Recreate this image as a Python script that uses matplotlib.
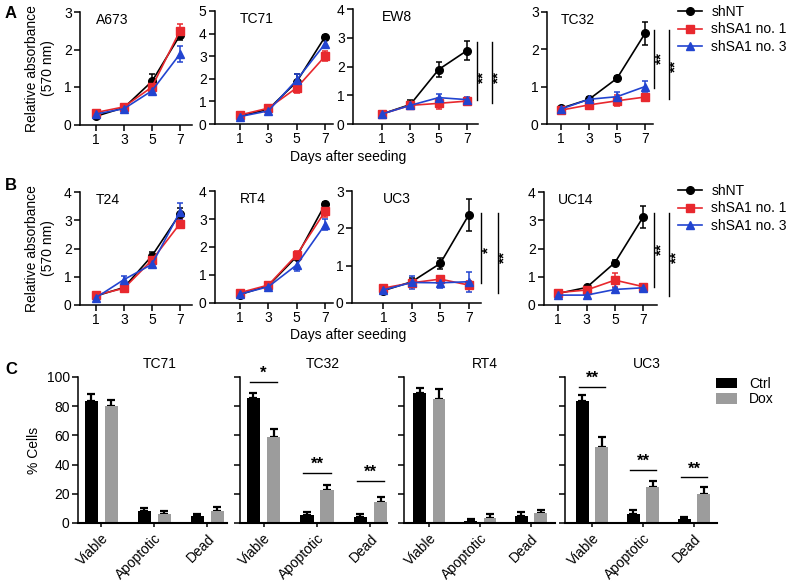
import numpy as np
import matplotlib
matplotlib.use("Agg")
import matplotlib.pyplot as plt
from matplotlib.lines import Line2D
from matplotlib.patches import Patch

plt.rcParams['font.family'] = ['Liberation Sans', 'DejaVu Sans']
plt.rcParams['font.size'] = 10

W, H = 788, 585

# ---------------- data: growth curves ----------------
days = [1, 3, 5, 7]
series_names = ["shNT", "shSA1 no. 1", "shSA1 no. 3"]
series_colors = ["#000000", "#e8282e", "#2244d0"]
series_markers = ["o", "s", "^"]

A673_mean = [[0.22, 0.45, 1.15, 2.38], [0.32, 0.47, 1.00, 2.50], [0.28, 0.42, 0.90, 1.88]]
A673_err = [[0.03, 0.08, 0.20, 0.12], [0.05, 0.05, 0.15, 0.18], [0.05, 0.05, 0.07, 0.22]]
TC71_mean = [[0.35, 0.65, 1.87, 3.86], [0.40, 0.70, 1.60, 3.00], [0.33, 0.58, 1.95, 3.55]]
TC71_err = [[0.05, 0.05, 0.35, 0.10], [0.06, 0.08, 0.22, 0.22], [0.05, 0.05, 0.25, 0.15]]
EW8_mean = [[0.35, 0.68, 1.90, 2.56], [0.35, 0.65, 0.72, 0.80], [0.35, 0.65, 0.92, 0.85]]
EW8_err = [[0.05, 0.15, 0.26, 0.33], [0.05, 0.10, 0.18, 0.12], [0.05, 0.10, 0.12, 0.10]]
TC32_mean = [[0.42, 0.66, 1.22, 2.42], [0.37, 0.51, 0.62, 0.72], [0.40, 0.66, 0.73, 1.00]]
TC32_err = [[0.04, 0.05, 0.07, 0.30], [0.04, 0.05, 0.15, 0.07], [0.04, 0.05, 0.12, 0.15]]

T24_mean = [[0.32, 0.62, 1.74, 3.23], [0.35, 0.59, 1.59, 2.88], [0.26, 0.90, 1.44, 3.30]]
T24_err = [[0.05, 0.08, 0.12, 0.20], [0.05, 0.08, 0.12, 0.15], [0.05, 0.12, 0.10, 0.30]]
RT4_mean = [[0.30, 0.62, 1.66, 3.52], [0.37, 0.64, 1.72, 3.27], [0.32, 0.58, 1.36, 2.80]]
RT4_err = [[0.04, 0.06, 0.10, 0.08], [0.05, 0.06, 0.15, 0.20], [0.04, 0.06, 0.20, 0.20]]
UC3_mean = [[0.33, 0.57, 1.06, 2.36], [0.40, 0.54, 0.64, 0.48], [0.35, 0.55, 0.54, 0.57]]
UC3_err = [[0.04, 0.10, 0.15, 0.42], [0.05, 0.08, 0.08, 0.10], [0.04, 0.18, 0.15, 0.27]]
UC14_mean = [[0.41, 0.62, 1.50, 3.12], [0.44, 0.53, 0.88, 0.65], [0.35, 0.35, 0.55, 0.61]]
UC14_err = [[0.04, 0.05, 0.10, 0.40], [0.05, 0.06, 0.25, 0.10], [0.04, 0.05, 0.05, 0.05]]

# ---------------- data: bar charts ----------------
bar_categories = ["Viable", "Apoptotic", "Dead"]
bar_groups = ["Ctrl", "Dox"]
bar_colors = ["#000000", "#9c9c9c"]

TC71_ctrl = [83.3, 8.0, 5.0];  TC71_ctrl_err = [5.0, 2.0, 1.0]
TC71_dox = [80.4, 6.0, 8.0];   TC71_dox_err = [4.0, 2.2, 3.0]
TC32_ctrl = [85.4, 5.7, 3.9];  TC32_ctrl_err = [3.5, 2.0, 2.0]
TC32_dox = [59.0, 22.4, 14.6]; TC32_dox_err = [5.5, 3.5, 3.0]
RT4_ctrl = [89.3, 1.6, 4.8];   RT4_ctrl_err = [3.5, 1.0, 2.5]
RT4_dox = [85.2, 3.7, 7.0];    RT4_dox_err = [6.5, 2.5, 2.0]
UC3_ctrl = [83.3, 6.2, 3.0];   UC3_ctrl_err = [4.5, 2.4, 1.0]
UC3_dox = [51.8, 24.7, 19.6];  UC3_dox_err = [6.8, 3.8, 5.0]

fig = plt.figure(figsize=(W / 100, H / 100), dpi=100)


def add_axes_px(left, top, right, bottom):
    return fig.add_axes([left / W, 1 - bottom / H, (right - left) / W, (bottom - top) / H])


def style(ax):
    for s in ["top", "right"]:
        ax.spines[s].set_visible(False)
    for s in ["left", "bottom"]:
        ax.spines[s].set_linewidth(1.1)
    ax.tick_params(direction="out", length=4, width=1.1, labelsize=10, pad=2)


def growth(ax, name, means, errs, ymax, xlim, sig):
    style(ax)
    for m, e, c, mk in zip(means, errs, series_colors, series_markers):
        ax.errorbar(days, m, yerr=e, color=c, marker=mk, markersize=5.5, lw=1.2,
                    elinewidth=1.1, capsize=2.5, capthick=1.1, clip_on=False, zorder=3)
    ax.set_ylim(0, ymax)
    ax.set_yticks(range(0, ymax + 1))
    ax.set_xlim(*xlim)
    ax.set_xticks(days)
    ax.text(1.0, ymax * 0.93, name, fontsize=10, ha="left", va="center")
    for (x, y0, y1, sx, sy, st) in sig:
        ax.plot([x, x], [y0, y1], color="#000000", lw=1.0, clip_on=False)
        ax.text(sx, sy, st, rotation=90, ha="center", va="center", fontsize=11,
                fontweight="bold", clip_on=False)


# ---------------- Row A ----------------
axA1 = add_axes_px(80, 12, 192, 124.5)
growth(axA1, "A673", A673_mean, A673_err, 3, (-0.14, 7.86), [])
axA2 = add_axes_px(215, 11, 333, 124)
growth(axA2, "TC71", TC71_mean, TC71_err, 5, (-0.76, 7.56), [])
axA3 = add_axes_px(353, 9.3, 478, 124)
growth(axA3, "EW8", EW8_mean, EW8_err, 4, (-1.05, 7.78),
       [(7.7, 2.86, 0.84, 8.13, 1.64, "**"), (8.76, 2.86, 0.73, 9.2, 1.64, "**")])
axA4 = add_axes_px(547, 11.7, 653, 124)
growth(axA4, "TC32", TC32_mean, TC32_err, 3, (0.0, 7.57),
       [(7.64, 2.51, 0.96, 8.14, 1.75, "**"), (8.71, 2.51, 0.67, 9.2, 1.55, "**")])
axA1.set_ylabel("Relative absorbance\n(570 nm)", fontsize=10, labelpad=6)

# ---------------- Row B ----------------
axB1 = add_axes_px(80, 192, 192, 305)
growth(axB1, "T24", T24_mean, T24_err, 4, (-0.14, 7.86), [])
axB2 = add_axes_px(215, 191, 333, 303)
growth(axB2, "RT4", RT4_mean, RT4_err, 4, (-0.76, 7.56), [])
axB3 = add_axes_px(352, 191, 481, 303)
growth(axB3, "UC3", UC3_mean, UC3_err, 3, (-1.2, 7.86),
       [(7.86, 2.41, 0.54, 8.35, 1.42, "*"), (9.07, 2.41, 0.27, 9.5, 1.23, "**")])
axB4 = add_axes_px(544, 192, 657, 305)
growth(axB4, "UC14", UC14_mean, UC14_err, 4, (0.0, 7.97),
       [(7.78, 3.26, 0.64, 8.27, 1.98, "**"), (8.83, 3.26, 0.32, 9.33, 1.70, "**")])
axB1.set_ylabel("Relative absorbance\n(570 nm)", fontsize=10, labelpad=6)

fig.text(348 / W, 1 - 157 / H, "Days after seeding", ha="center", va="center", fontsize=10)
fig.text(348 / W, 1 - 335 / H, "Days after seeding", ha="center", va="center", fontsize=10)

handles = [Line2D([], [], color=c, marker=mk, markersize=5.5, lw=1.2)
           for c, mk in zip(series_colors, series_markers)]
for ytop in (5, 184):
    fig.legend(handles, series_names, loc="upper left", bbox_to_anchor=(678 / W, 1 - ytop / H),
               frameon=False, handlelength=1.7, handletextpad=0.7, labelspacing=0.25,
               fontsize=10, borderaxespad=0, borderpad=0)

# ---------------- Row C ----------------
def bars(ax, name, ctrl, ctrl_e, dox, dox_e, xlim, show_labels, sig, title_x):
    style(ax)
    x = np.arange(len(bar_categories))
    off = 0.19
    w = 0.25
    ax.bar(x - off, ctrl, w, color=bar_colors[0], zorder=2)
    ax.bar(x + off, dox, w, color=bar_colors[1], zorder=2)
    ax.errorbar(x - off, ctrl, yerr=[np.zeros(3), ctrl_e], fmt="none", ecolor=bar_colors[0],
                elinewidth=1.6, capsize=3, capthick=1.6, zorder=1)
    ax.errorbar(x + off, dox, yerr=[np.zeros(3), dox_e], fmt="none", ecolor=bar_colors[0],
                elinewidth=1.6, capsize=3, capthick=1.6, zorder=1)
    ax.set_ylim(0, 100)
    ax.set_yticks([0, 20, 40, 60, 80, 100])
    if not show_labels:
        ax.set_yticklabels([])
    ax.set_xlim(*xlim)
    ax.set_xticks(x)
    ax.set_xticklabels(bar_categories, rotation=45, ha="right", rotation_mode="anchor", fontsize=10)
    ax.tick_params(axis="x", length=3, pad=3)
    ax.spines["bottom"].set_linewidth(1.5)
    ax.text(title_x, 104, name, ha="center", va="bottom", fontsize=10, clip_on=False)
    for (i, y, st) in sig:
        ax.plot([i - 0.26, i + 0.26], [y, y], color="#000000", lw=1.0)
        ax.text(i, y + 0.5, st, ha="center", va="bottom", fontsize=12, fontweight="bold")


axC1 = add_axes_px(78, 377, 227, 523)
bars(axC1, "TC71", TC71_ctrl, TC71_ctrl_err, TC71_dox, TC71_dox_err, (-0.44, 2.37), True, [], 1.1)
axC2 = add_axes_px(240, 377, 387, 523)
bars(axC2, "TC32", TC32_ctrl, TC32_ctrl_err, TC32_dox, TC32_dox_err, (-0.44, 2.31), False,
     [(0, 96.6, "*"), (1, 34.5, "**"), (2, 28.8, "**")], 1.1)
axC3 = add_axes_px(404, 377, 555, 523)
bars(axC3, "RT4", RT4_ctrl, RT4_ctrl_err, RT4_dox, RT4_dox_err, (-0.5, 2.47), False, [], 1.1)
axC4 = add_axes_px(565, 377, 717, 523)
bars(axC4, "UC3", UC3_ctrl, UC3_ctrl_err, UC3_dox, UC3_dox_err, (-0.53, 2.45), False,
     [(0, 93.2, "**"), (1, 36.5, "**"), (2, 31.5, "**")], 1.08)
axC1.set_ylabel("% Cells", fontsize=10, labelpad=4)

patches = [Patch(facecolor=c, edgecolor="none") for c in bar_colors]
fig.legend(patches, bar_groups, loc="upper left", bbox_to_anchor=(716 / W, 1 - 377 / H),
           frameon=False, handlelength=1.5, handleheight=0.75, handletextpad=0.9, labelspacing=0.1,
           fontsize=10, borderaxespad=0, borderpad=0)

# panel letters
fig.text(5 / W, 1 - 14 / H, "A", fontsize=12, fontweight="bold", va="center")
fig.text(5 / W, 1 - 186 / H, "B", fontsize=12, fontweight="bold", va="center")
fig.text(5 / W, 1 - 369 / H, "C", fontsize=12, fontweight="bold", va="center")

fig.savefig("out.png", dpi=100)
